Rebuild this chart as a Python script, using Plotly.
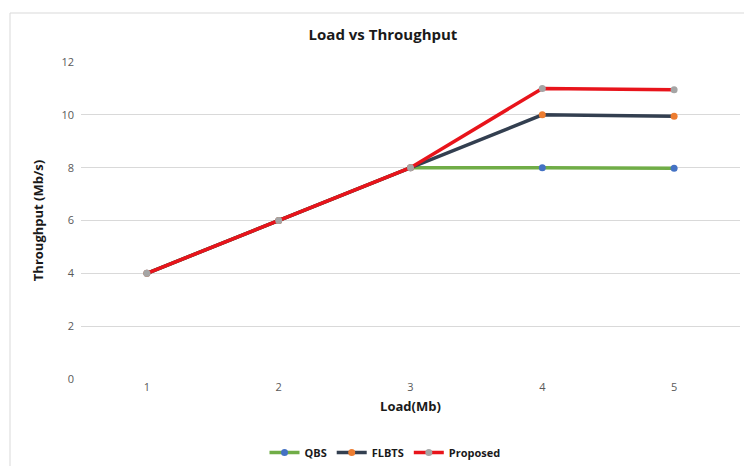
import plotly.graph_objects as go

loads = [1, 2, 3, 4, 5]
qbs = [4, 6, 8, 8, 7.98]
flbts = [4, 6, 8, 10, 9.95]
proposed = [4, 6, 8, 11, 10.95]
y_ticks = [0, 2, 4, 6, 8, 10, 12]

series = [
    ("QBS", qbs, "#70AD47", "#4472C4"),
    ("FLBTS", flbts, "#333F50", "#ED7D31"),
    ("Proposed", proposed, "#E8141B", "#A5A5A5"),
]

fig = go.Figure()
for name, vals, lc, mc in series:
    fig.add_trace(go.Scatter(
        x=loads, y=vals, name="<b>" + name + "</b>", mode="lines+markers",
        line=dict(color=lc, width=3.5),
        marker=dict(color=mc, size=7),
    ))

W, H = 744, 466
L, R, T, B = 81, 4, 62, 87

fig.update_layout(
    width=W, height=H,
    margin=dict(l=L, r=R, t=T, b=B),
    paper_bgcolor="white", plot_bgcolor="white",
    font=dict(family="Open Sans, Liberation Sans, sans-serif", color="#595959", size=11),
    title=dict(text="<b>Load vs Throughput</b>", x=383 / W, xanchor="center",
               y=1 - 35 / H, yanchor="middle",
               font=dict(size=15, color="#1a1a1a")),
    xaxis=dict(
        range=[0.5, 5.5],
        tickvals=loads, ticktext=[str(v) for v in loads],
        showgrid=False, zeroline=False, showline=False,
        ticks="", ticklen=0,
        title=dict(text="<b>Load(Mb)</b>", font=dict(size=13, color="#1a1a1a"), standoff=8),
    ),
    yaxis=dict(
        range=[0, 12], tickvals=y_ticks,
        showgrid=True, gridcolor="#D9D9D9", gridwidth=1,
        zeroline=False, showline=False, ticks="",
        ticklabelstandoff=6,
        title=dict(text="<b>Throughput (Mb/s)</b>", font=dict(size=13, color="#1a1a1a"), standoff=14),
    ),
    legend=dict(
        orientation="h", x=385 / W, xref="container", xanchor="center",
        y=1 - (453 - 15) / H, yref="container", yanchor="top",
        font=dict(size=11, color="#1a1a1a"),
        itemwidth=30, tracegroupgap=0,
    ),
    showlegend=True,
    shapes=[
        dict(type="line", xref="paper", yref="paper",
             x0=(10 - L) / (W - L - R), x1=1.2,
             y0=1 + (T - 13) / (H - T - B), y1=1 + (T - 13) / (H - T - B),
             line=dict(color="#D9D9D9", width=1)),
        dict(type="line", xref="paper", yref="paper",
             x0=(10 - L) / (W - L - R), x1=(10 - L) / (W - L - R),
             y0=-0.5, y1=1 + (T - 13) / (H - T - B),
             line=dict(color="#D9D9D9", width=1)),
    ],
)

fig.write_html("out.html")
